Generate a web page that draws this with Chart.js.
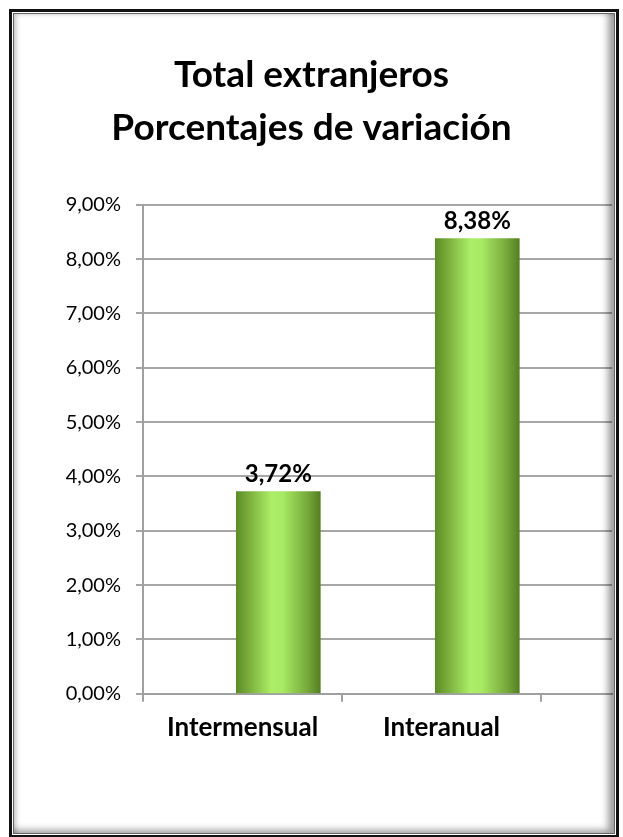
<!DOCTYPE html>
<html>
<head>
    <title>Total extranjeros</title>
    <script src="https://cdn.jsdelivr.net/npm/chart.js"></script>
    <style>
        html, body { margin: 0; padding: 0; background: #fff; }
        body { width: 623px; height: 837px; position: relative; overflow: hidden; }
        #chartBox { position: absolute; left: 0; top: 0; width: 623px; height: 837px; }
        .outer { position: absolute; left: 9px; top: 9px; width: 602px; height: 821px;
                 border: 3px solid #111; padding: 1px; pointer-events: none; }
        .inner { width: 100%; height: 100%; box-sizing: border-box; border: 1px solid #666;
                 box-shadow: inset -9px -6px 7px -3px rgba(0,0,0,0.38), inset 5px 3px 5px -3px rgba(0,0,0,0.25); }
    </style>
</head>
<body>
<div id="chartBox"><canvas id="variationChart"></canvas></div>
<div class="outer"><div class="inner"></div></div>
<script>
    // Datos del grafico
    const categories = ['Intermensual', 'Interanual'];
    const values = [3.72, 8.38];
    const yTicks = [0, 1, 2, 3, 4, 5, 6, 7, 8, 9];

    const fmt = v => v.toFixed(2).replace('.', ',') + '%';
    const barShift = 0.68;   // posicion de la barra dentro de su categoria

    // Etiquetas encima de las barras
    const valueLabels = {
        id: 'valueLabels',
        afterDatasetsDraw(chart) {
            const ctx = chart.ctx;
            ctx.save();
            ctx.font = 'bold 24px Lato';
            ctx.fillStyle = '#000';
            ctx.textAlign = 'center';
            ctx.textBaseline = 'bottom';
            chart.getDatasetMeta(0).data.forEach((bar, i) => {
                ctx.fillText(fmt(values[i]), bar.x, bar.y - 5);
            });
            ctx.restore();
        }
    };

    function barGradient(context) {
        const chart = context.chart;
        const xs = chart.scales.x;
        if (!xs || !context.parsed) return '#8cc850';
        const cx = xs.getPixelForValue(context.parsed.x);
        if (!isFinite(cx)) return '#8cc850';
        const g = chart.ctx.createLinearGradient(cx - 42, 0, cx + 42, 0);
        g.addColorStop(0, '#5d8c27');
        g.addColorStop(0.15, '#7aae3b');
        g.addColorStop(0.42, '#acee68');
        g.addColorStop(0.55, '#a8ea64');
        g.addColorStop(0.85, '#76a83a');
        g.addColorStop(1, '#557f22');
        return g;
    }

    let ctx = document.getElementById('variationChart').getContext('2d');
    let chart = new Chart(ctx, {
        type: 'bar',
        data: {
            datasets: [{
                data: values.map((v, i) => ({ x: i + barShift, y: v })),
                backgroundColor: barGradient,
                borderWidth: 0,
                barThickness: 84
            }]
        },
        options: {
            responsive: true,
            maintainAspectRatio: false,
            animation: false,
            layout: { padding: { left: 11, right: 11, top: 0, bottom: 84 } },
            plugins: {
                legend: { display: false },
                tooltip: { enabled: false },
                title: {
                    display: true,
                    text: ['Total extranjeros', 'Porcentajes de variación'],
                    color: '#000',
                    font: { family: 'Lato', size: 37, weight: 'bold', lineHeight: 1.43 },
                    padding: { top: 49, bottom: 50 }
                }
            },
            scales: {
                x: {
                    type: 'linear',
                    offset: false,
                    min: 0,
                    max: 2.357,
                    afterBuildTicks: scale => {
                        scale.ticks = [0, 0.5, 1, 1.5, 2].map(v => ({ value: v }));
                    },
                    grid: {
                        offset: false,
                        drawOnChartArea: false,
                        tickLength: 8,
                        lineWidth: 2,
                        color: c => (c.tick && c.tick.value % 1 === 0) ? '#a0a0a0' : 'rgba(0,0,0,0)'
                    },
                    border: { color: '#a0a0a0', width: 2 },
                    ticks: {
                        autoSkip: false,
                        maxRotation: 0,
                        padding: 10,
                        color: '#000',
                        font: { family: 'Lato', size: 26, weight: 'bold' },
                        callback: v => (v % 1 === 0) ? '' : categories[Math.floor(v)]
                    }
                },
                y: {
                    min: 0,
                    max: 9,
                    afterBuildTicks: scale => {
                        scale.ticks = yTicks.map(v => ({ value: v }));
                    },
                    afterFit: scale => { scale.width = 132; },
                    grid: { color: '#a6a6a6', lineWidth: 2, tickLength: 7 },
                    border: { color: '#a0a0a0', width: 2 },
                    ticks: {
                        padding: 15,
                        color: '#000',
                        font: { family: 'Lato', size: 20 },
                        callback: v => fmt(v)
                    }
                }
            }
        },
        plugins: [valueLabels]
    });
</script>
</body>
</html>
